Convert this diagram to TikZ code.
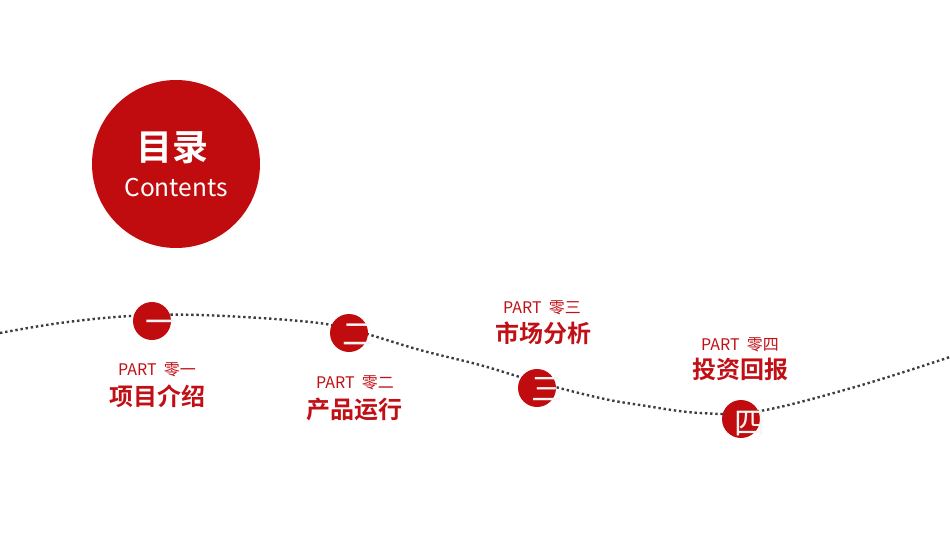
\documentclass[tikz,border=0pt]{standalone}
\usepackage{fontspec}
\setmainfont{Noto Sans CJK SC}
\newfontfamily\cjkb{Noto Sans CJK SC Bold}
\newfontfamily\cjkr{Noto Sans CJK SC}
\definecolor{mainred}{RGB}{192,12,14}
\definecolor{txtred}{RGB}{192,16,22}
\definecolor{dotgray}{RGB}{60,60,66}
\definecolor{numwhite}{RGB}{246,244,244}
\tikzset{
  bigdot/.style={circle,fill=mainred,minimum size=168pt,inner sep=0pt},
  smalldot/.style={circle,fill=mainred,minimum size=38pt,inner sep=0pt},
  numtxt/.style={text=numwhite,font=\cjkr\fontsize{31}{31}\selectfont,inner sep=0pt,anchor=base},
  parttxt/.style={text=txtred,font=\cjkr\fontsize{16}{16}\selectfont,inner sep=0pt},
  titletxt/.style={text=txtred,font=\cjkb\fontsize{24}{24}\selectfont,inner sep=0pt},
  dotline/.style={draw=dotgray,line width=2.4pt,dash pattern=on 2.4pt off 2.8pt}
}
\begin{document}
\begin{tikzpicture}[x=1pt,y=-1pt]
\useasboundingbox (0,0) rectangle (950,535);
\draw[dotline] plot[smooth,tension=0.6] coordinates {(0,333) (60,323) (130,316) (200,315) (300,321) (349,329) (420,350) (480,365) (537,382) (600,398) (640,405) (700,413) (760,411) (855,387) (950,357)};
% big circle
\node[bigdot] (big) at (176,164) {};
\node[text=white,font=\cjkb\fontsize{36}{36}\selectfont,inner sep=0pt] (mulu) at (172,148) {目录};
\node[text=white,font=\cjkr\fontsize{24.5}{24.5}\selectfont,inner sep=0pt] (cont) at (176,188) {Contents};
% small circles
\node[smalldot] (c1) at (152,321) {};
\node[smalldot] (c2) at (349,333) {};
\node[smalldot] (c3) at (537,388) {};
\node[smalldot] (c4) at (741,419) {};
\node[numtxt] (n1) at (161,333) {一};
\node[numtxt] (n2) at (358,345) {二};
\node[numtxt] (n3) at (547,400) {三};
\node[numtxt] (n4) at (750,434) {四};
% labels
\node[parttxt] (p1) at (157,370) {PART\ \ 零一};
\node[titletxt] (t1) at (157,396) {项目介绍};
\node[parttxt] (p2) at (355,383) {PART\ \ 零二};
\node[titletxt] (t2) at (354,409) {产品运行};
\node[parttxt] (p3) at (542,308) {PART\ \ 零三};
\node[titletxt] (t3) at (543,333) {市场分析};
\node[parttxt] (p4) at (740,345) {PART\ \ 零四};
\node[titletxt] (t4) at (740,369) {投资回报};
\end{tikzpicture}
\end{document}
